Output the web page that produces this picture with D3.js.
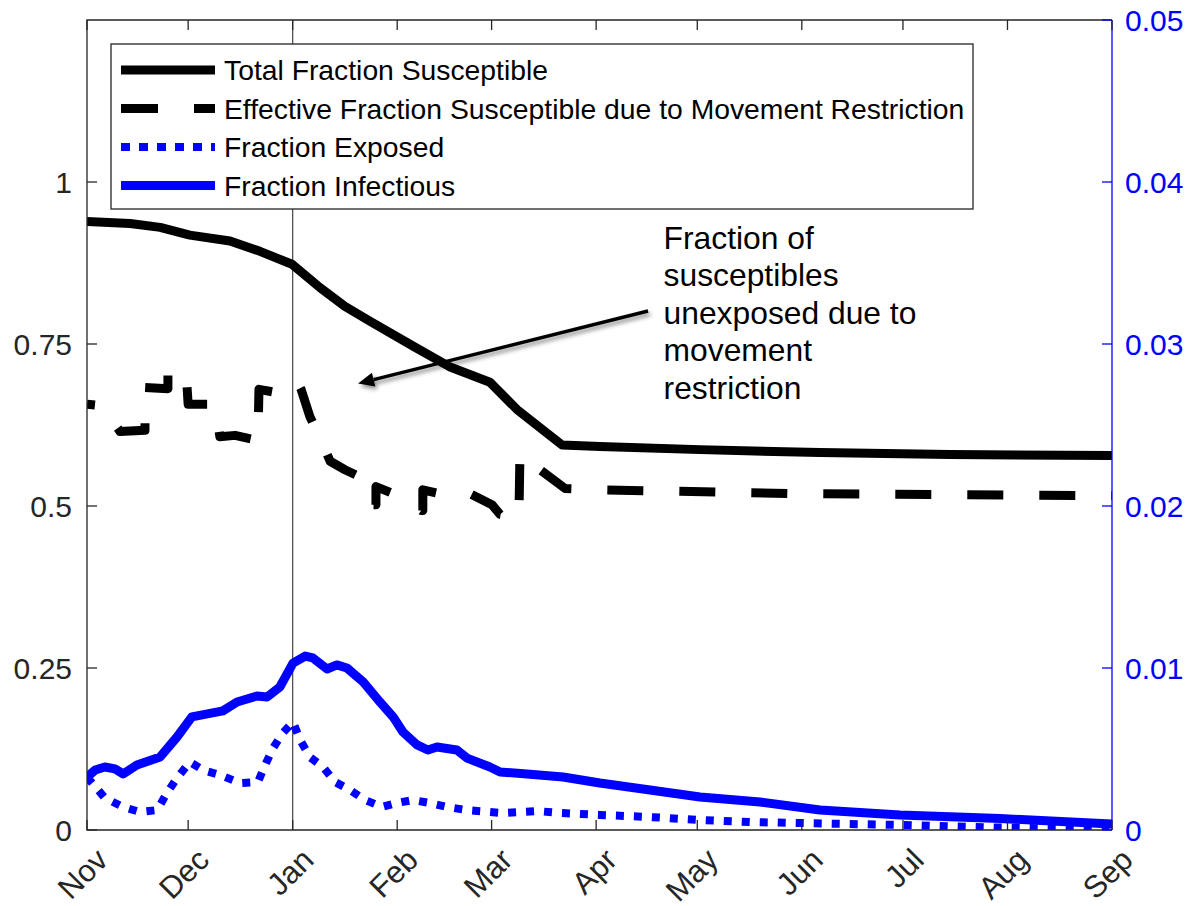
<!DOCTYPE html>
<html>
<head>
<meta charset="utf-8">
<script src="https://cdn.jsdelivr.net/npm/d3@7"></script>
<style>
  html, body { margin: 0; padding: 0; background: #fff; }
  svg { display: block; font-family: "Liberation Sans", Arial, Helvetica, sans-serif; }
</style>
</head>
<body>
<svg id="chart" width="1193" height="906"></svg>
<script>
// ---------------- data ----------------
const startDate = "2018-11-01";
const endDate = "2019-09-01";
const monthLabels = ["Nov","Dec","Jan","Feb","Mar","Apr","May","Jun","Jul","Aug","Sep"];
const leftTicks = [0, 0.25, 0.5, 0.75, 1];
const leftTickLabels = ["0", "0.25", "0.5", "0.75", "1"];
const rightTicks = [0, 0.01, 0.02, 0.03, 0.04, 0.05];
const rightTickLabels = ["0", "0.01", "0.02", "0.03", "0.04", "0.05"];
const seriesNames = [
  "Total Fraction Susceptible",
  "Effective Fraction Susceptible due to Movement Restriction",
  "Fraction Exposed",
  "Fraction Infectious"
];
const annotationLines = ["Fraction of", "susceptibles", "unexposed due to", "movement", "restriction"];

// days since Nov 1 / values (left axis)
const totalDays = [0, 12.8, 21.7, 30.5, 42.4, 51.3, 60.8, 69.1, 76.5, 84, 97.3, 107.5, 119.5, 127.5, 140.9, 152.1, 181.8, 217.4, 256, 304];
const totalSusceptible = [0.939, 0.936, 0.930, 0.918, 0.909, 0.893, 0.873, 0.837, 0.808, 0.785, 0.745, 0.715, 0.691, 0.649, 0.594, 0.592, 0.587, 0.5825, 0.5794, 0.578];

const effDays = [0, 5.6, 7.7, 9.8, 17.2, 17.2, 24.0, 24.0, 29.4, 30.0, 38.0, 39.4, 43.9, 49.2, 50.7, 51.0, 57.2, 62.3, 63.5, 66.1, 70.0, 72.1, 76.5, 80.1, 84.5, 85.7, 85.7, 92.8, 99.1, 99.6, 99.6, 105.3, 113.6, 120.1, 122.5, 128.1, 128.4, 141.8, 152.1, 211.5, 304];
const effSusceptible = [0.657, 0.654, 0.630, 0.615, 0.617, 0.683, 0.681, 0.706, 0.706, 0.657, 0.657, 0.607, 0.609, 0.603, 0.601, 0.680, 0.674, 0.692, 0.680, 0.638, 0.595, 0.569, 0.556, 0.547, 0.502, 0.502, 0.530, 0.515, 0.493, 0.493, 0.525, 0.518, 0.519, 0.502, 0.487, 0.482, 0.579, 0.527, 0.525, 0.519, 0.516];

// days since Nov 1 / values (right axis)
const expDays = [0, 5.3, 10.7, 15.7, 20.8, 23.7, 26.7, 30.5, 34.4, 39.4, 45.4, 50.7, 52.8, 55.2, 58.1, 61.1, 63.2, 66.1, 70.0, 73.6, 78.0, 82.5, 87.5, 91.9, 96.7, 101.7, 106.8, 112.7, 123.1, 128.4, 133.5, 140.3, 152.1, 167.0, 181.8, 196.6, 211.5, 241.1, 270.8, 304];
const fracExposed = [0.00327, 0.00198, 0.00142, 0.00111, 0.00123, 0.00228, 0.00321, 0.0042, 0.0037, 0.0034, 0.0029, 0.00296, 0.0040, 0.00506, 0.0060, 0.00667, 0.00556, 0.0045, 0.00389, 0.00296, 0.00247, 0.00185, 0.00142, 0.00167, 0.00185, 0.00167, 0.00142, 0.00123, 0.00105, 0.00111, 0.00117, 0.00105, 0.00093, 0.0008, 0.00062, 0.00049, 0.00043, 0.00031, 0.00015, 0.00003];

const infDays = [0, 2.4, 5.3, 8.3, 10.7, 14.8, 21.7, 26.7, 31.1, 40.3, 44.5, 50.4, 53.4, 57.2, 61.1, 64.7, 67.0, 71.2, 74.1, 77.1, 81.9, 86.9, 90.8, 93.7, 97.9, 101.1, 103.8, 109.7, 112.7, 119.5, 122.5, 130.5, 141.2, 152.1, 167.0, 181.8, 199.6, 217.4, 241.1, 270.8, 304];
const fracInfectious = [0.00327, 0.0037, 0.00389, 0.00377, 0.00346, 0.00401, 0.00451, 0.00574, 0.00698, 0.00735, 0.0079, 0.00827, 0.00821, 0.00883, 0.0103, 0.01074, 0.01062, 0.00994, 0.01019, 0.0100, 0.00914, 0.0079, 0.00698, 0.00605, 0.00525, 0.00494, 0.00512, 0.00494, 0.00444, 0.00389, 0.00358, 0.00346, 0.00327, 0.0029, 0.00247, 0.00204, 0.00173, 0.00123, 0.00093, 0.00071, 0.00037];

// annotation arrow (data units: days, left-axis value)
const arrowTail = [166.4, 0.801];
const arrowHead = [80.4, 0.689];
const annotationAnchor = [171, 0.915];

// ---------------- layout ----------------
const svg = d3.select("#chart");
const m = { left: 87, right: 1112, top: 20, bottom: 830 };
const t0 = new Date(startDate + "T00:00:00Z");
const dayToDate = d => new Date(+t0 + d * 864e5);

const x = d3.scaleUtc().domain([t0, new Date(endDate + "T00:00:00Z")]).range([m.left, m.right]);
const yL = d3.scaleLinear().domain([0, 1.25]).range([m.bottom, m.top]);
const yR = d3.scaleLinear().domain([0, 0.05]).range([m.bottom, m.top]);

const axisColor = "#262626";
const blue = "#0000ff";
const fontSize = 30;

svg.append("defs").append("clipPath").attr("id", "plotclip")
  .append("rect").attr("x", m.left).attr("y", m.top)
  .attr("width", m.right - m.left).attr("height", m.bottom - m.top);

const shadow = svg.select("defs").append("filter").attr("id", "shadow")
  .attr("x", "-20%").attr("y", "-50%").attr("width", "140%").attr("height", "200%");
shadow.append("feDropShadow").attr("dx", 2).attr("dy", 3).attr("stdDeviation", 2)
  .attr("flood-color", "#000").attr("flood-opacity", 0.45);

// month ticks
const monthTicks = d3.utcMonth.range(t0, d3.utcDay.offset(new Date(endDate + "T00:00:00Z"), 1));

// Jan vertical line
svg.append("line")
  .attr("x1", x(monthTicks[2])).attr("x2", x(monthTicks[2]))
  .attr("y1", m.top).attr("y2", m.bottom)
  .attr("stroke", "#444").attr("stroke-width", 1.2);

// ---------------- series ----------------
const g = svg.append("g").attr("clip-path", "url(#plotclip)");

function drawLine(days, vals, yScale, color, width, dash, offset) {
  const pts = days.map((d, i) => [dayToDate(d), vals[i]]);
  const line = d3.line().x(p => x(p[0])).y(p => yScale(p[1]));
  g.append("path").datum(pts)
    .attr("d", line)
    .attr("fill", "none")
    .attr("stroke", color)
    .attr("stroke-width", width)
    .attr("stroke-linejoin", "round")
    .attr("stroke-linecap", "butt")
    .attr("stroke-dasharray", dash || null)
    .attr("stroke-dashoffset", offset || 0);
}

drawLine(totalDays, totalSusceptible, yL, "#000", 9, null);
drawLine(effDays, effSusceptible, yL, "#000", 9, "36,36", 28);
drawLine(expDays, fracExposed, yR, blue, 8, "8,10");
drawLine(infDays, fracInfectious, yR, blue, 9, null);

// ---------------- axes ----------------
const tickLen = 10;
svg.append("path")
  .attr("d", `M${m.right},${m.top}H${m.left}V${m.bottom}H${m.right}`)
  .attr("fill", "none").attr("stroke", axisColor).attr("stroke-width", 1.3);
svg.append("line").attr("x1", m.right).attr("x2", m.right).attr("y1", m.top).attr("y2", m.bottom)
  .attr("stroke", blue).attr("stroke-width", 1.3);

monthTicks.forEach((d, i) => {
  const xx = x(d);
  svg.append("line").attr("x1", xx).attr("x2", xx).attr("y1", m.bottom).attr("y2", m.bottom - tickLen)
    .attr("stroke", axisColor).attr("stroke-width", 1.3);
  svg.append("line").attr("x1", xx).attr("x2", xx).attr("y1", m.top).attr("y2", m.top + tickLen)
    .attr("stroke", axisColor).attr("stroke-width", 1.3);
  svg.append("text")
    .attr("transform", `translate(${xx + 7},${m.bottom + 16}) rotate(-45)`)
    .attr("text-anchor", "end")
    .attr("dy", "0.72em")
    .attr("font-size", 31)
    .attr("fill", axisColor)
    .text(monthLabels[i]);
});

leftTicks.forEach((v, i) => {
  const yy = yL(v);
  svg.append("line").attr("x1", m.left).attr("x2", m.left + tickLen).attr("y1", yy).attr("y2", yy)
    .attr("stroke", axisColor).attr("stroke-width", 1.3);
  svg.append("text").attr("x", m.left - 15).attr("y", yy).attr("dy", "0.36em")
    .attr("text-anchor", "end").attr("font-size", fontSize).attr("fill", axisColor)
    .text(leftTickLabels[i]);
});

rightTicks.forEach((v, i) => {
  const yy = yR(v);
  svg.append("line").attr("x1", m.right).attr("x2", m.right - tickLen).attr("y1", yy).attr("y2", yy)
    .attr("stroke", blue).attr("stroke-width", 1.3);
  svg.append("text").attr("x", m.right + 13).attr("y", yy).attr("dy", "0.36em")
    .attr("text-anchor", "start").attr("font-size", fontSize).attr("fill", blue)
    .text(rightTickLabels[i]);
});

// ---------------- legend ----------------
const leg = svg.append("g");
leg.append("rect").attr("x", 111).attr("y", 44).attr("width", 862).attr("height", 165)
  .attr("fill", "#fff").attr("stroke", axisColor).attr("stroke-width", 1.3);
const legStyles = [
  { color: "#000", width: 9, dash: null },
  { color: "#000", width: 9, dash: "37,36" },
  { color: blue, width: 8, dash: "9,9" },
  { color: blue, width: 9, dash: null }
];
seriesNames.forEach((name, i) => {
  const yy = 70 + i * 38.5;
  leg.append("line").attr("x1", 121).attr("x2", 215).attr("y1", yy).attr("y2", yy)
    .attr("stroke", legStyles[i].color).attr("stroke-width", legStyles[i].width)
    .attr("stroke-dasharray", legStyles[i].dash);
  leg.append("text").attr("x", 224).attr("y", yy).attr("dy", "0.36em")
    .attr("font-size", 28.3).attr("fill", "#000").text(name);
});

// ---------------- annotation ----------------
const ax0 = x(dayToDate(arrowTail[0])), ay0 = yL(arrowTail[1]);
const ax1 = x(dayToDate(arrowHead[0])), ay1 = yL(arrowHead[1]);
const ang = Math.atan2(ay1 - ay0, ax1 - ax0);
const hl = 16, hw = 7;
const bx = ax1 - hl * Math.cos(ang), by = ay1 - hl * Math.sin(ang);
const arrow = svg.append("g").attr("filter", "url(#shadow)");
arrow.append("line").attr("x1", ax0).attr("y1", ay0).attr("x2", bx).attr("y2", by)
  .attr("stroke", "#000").attr("stroke-width", 3.5);
arrow.append("path")
  .attr("d", `M${ax1},${ay1}L${bx - hw * Math.sin(ang)},${by + hw * Math.cos(ang)}L${bx + hw * Math.sin(ang)},${by - hw * Math.cos(ang)}Z`)
  .attr("fill", "#000");

const annX = x(dayToDate(annotationAnchor[0]));
const annY = yL(annotationAnchor[1]);
annotationLines.forEach((s, i) => {
  svg.append("text").attr("x", annX).attr("y", annY + i * 37.5).attr("dy", "0.36em")
    .attr("font-size", 31.8).attr("fill", "#000").text(s);
});
</script>
</body>
</html>
